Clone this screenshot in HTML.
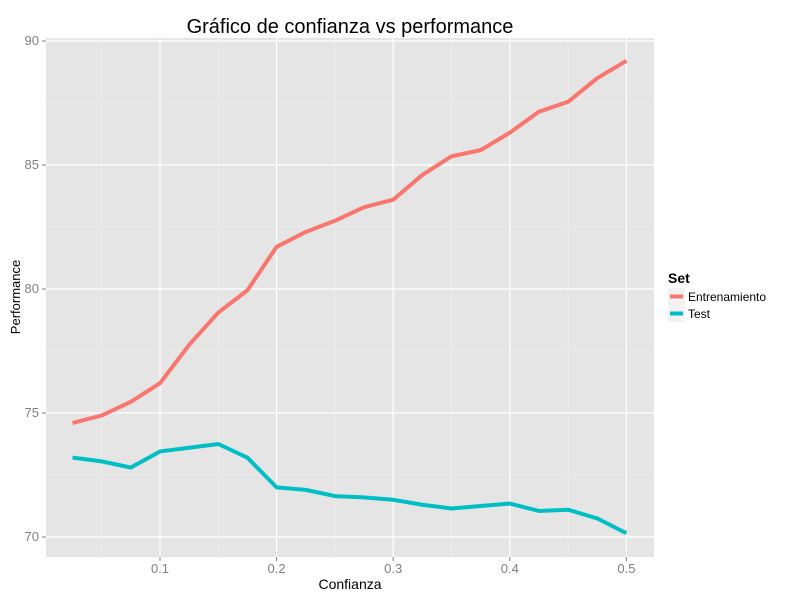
<!DOCTYPE html>
<html><head><meta charset="utf-8"><style>
body{margin:0;background:#fff;font-family:"Liberation Sans",sans-serif;}
svg text{font-family:"Liberation Sans",sans-serif;}
</style></head><body>
<svg id="chart" width="800" height="600">
<rect width="800" height="600" fill="#fff"/>
<text x="350" y="33" text-anchor="middle" font-size="20" fill="#000">Gráfico de confianza vs performance</text>
<rect x="46" y="38" width="608" height="519" fill="#e5e5e5"/>
<g id="grid"></g><g id="series"></g><g id="axes"></g>
<text x="350" y="589" text-anchor="middle" font-size="14">Confianza</text>
<text transform="translate(20,297) rotate(-90)" text-anchor="middle" font-size="13">Performance</text>
<g>
<text x="668" y="283" font-size="14" font-weight="bold">Set</text>
<g><rect x="668" y="288" width="17" height="17" fill="#f2f2f2"/><line x1="670" y1="296.5" x2="683" y2="296.5" stroke="#f8766d" stroke-width="4"/><text x="688" y="301" font-size="12">Entrenamiento</text></g>
<g><rect x="668" y="305" width="17" height="17" fill="#f2f2f2"/><line x1="670" y1="313.5" x2="683" y2="313.5" stroke="#00bfc4" stroke-width="4"/><text x="688" y="318" font-size="12">Test</text></g>
</g>
</svg>
<script>
const xValues=[0.025,0.05,0.075,0.1,0.125,0.15,0.175,0.2,0.225,0.25,0.275,0.3,0.325,0.35,0.375,0.4,0.425,0.45,0.475,0.5];
const trainValues=[74.6,74.9,75.45,76.2,77.75,79.05,79.95,81.7,82.3,82.75,83.3,83.6,84.6,85.35,85.6,86.3,87.15,87.55,88.5,89.2];
const testValues=[73.2,73.05,72.8,73.45,73.6,73.75,73.2,72.0,71.9,71.65,71.6,71.5,71.3,71.15,71.25,71.35,71.05,71.1,70.75,70.15];
const xTicks=[0.1,0.2,0.3,0.4,0.5];
const xTickLabels=["0.1","0.2","0.3","0.4","0.5"];
const yTicks=[70,75,80,85,90];
const yTickLabels=["70","75","80","85","90"];
const NS="http://www.w3.org/2000/svg";
const sx=v=>160+(v-0.1)*1166;
const sy=v=>537-(v-70)*24.8;
const L=46,R=654,T=38,B=557;
function mk(t,a,p){const e=document.createElementNS(NS,t);for(const k in a)e.setAttribute(k,a[k]);p.appendChild(e);return e;}
const grid=document.getElementById('grid'),axes=document.getElementById('axes'),series=document.getElementById('series');
for(let i=0;i<xTicks.length;i++){
 const x=sx(xTicks[i]);
 const g=mk('line',{x1:x,x2:x,y1:T,y2:B,stroke:'#fff','stroke-width':1.2},grid);
 
 
 const m=sx(xTicks[i]-0.05);
 const mg=mk('line',{x1:m,x2:m,y1:T,y2:B,stroke:'#f2f2f2','stroke-width':0.6},grid);
 
 
 mk('line',{x1:x,x2:x,y1:B,y2:B+4,stroke:'#7f7f7f'},axes);
 const t=mk('text',{x:x,y:B+16,'text-anchor':'middle','font-size':13,fill:'#7f7f7f'},axes);
 t.textContent=xTickLabels[i];
 
 
}
for(let i=0;i<yTicks.length;i++){
 const y=sy(yTicks[i]);
 const g=mk('line',{x1:L,x2:R,y1:y,y2:y,stroke:'#fff','stroke-width':1.2},grid);
 
 
 if(i<yTicks.length-1){const m=sy(yTicks[i]+2.5);
 const mg=mk('line',{x1:L,x2:R,y1:m,y2:m,stroke:'#f2f2f2','stroke-width':0.6},grid);
 
 }
 mk('line',{x1:L-4,x2:L,y1:y,y2:y,stroke:'#7f7f7f'},axes);
 const t=mk('text',{x:L-7,y:y+4,'text-anchor':'end','font-size':13,fill:'#7f7f7f'},axes);
 t.textContent=yTickLabels[i];
 
 
}
function line(vals,color,name){
 const d=vals.map((v,i)=>(i?'L':'M')+sx(xValues[i])+','+sy(v)).join(' ');
 const p=mk('path',{d:d,fill:'none',stroke:color,'stroke-width':4,'stroke-linejoin':'round'},series);
 
 
}
line(trainValues,'#f8766d','line-entrenamiento');
line(testValues,'#00bfc4','line-test');
</script>
</body></html>
